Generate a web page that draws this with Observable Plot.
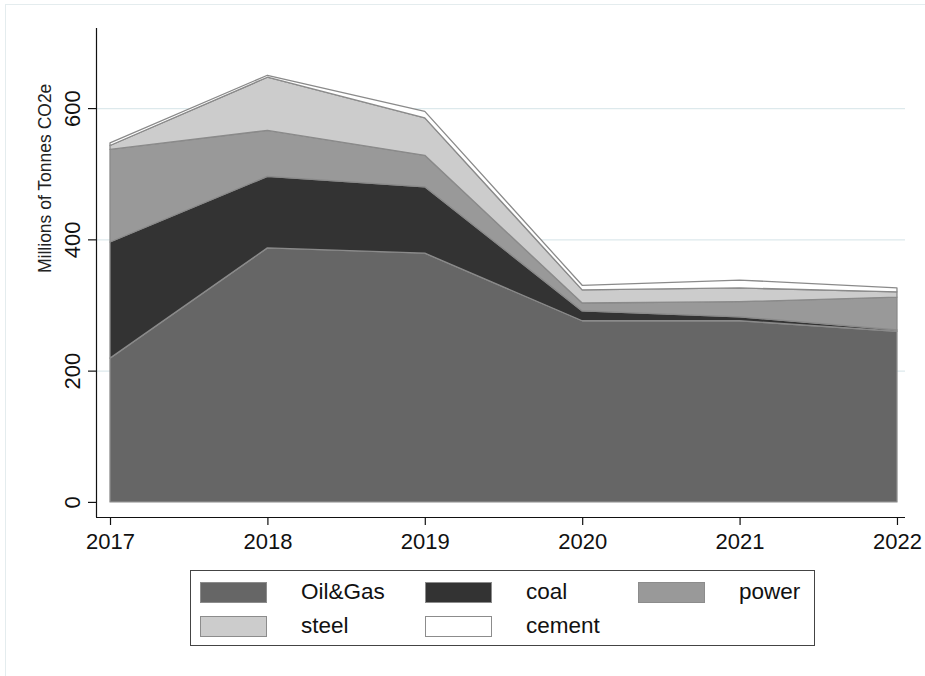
<!DOCTYPE html>
<html>
<head>
<meta charset="utf-8">
<script src="https://cdn.jsdelivr.net/npm/d3@7"></script>
<script src="https://cdn.jsdelivr.net/npm/@observablehq/plot@0.6"></script>
<style>
  body { margin: 0; background: #fff; font-family: "Liberation Sans", Arial, sans-serif; }
  #wrap { position: relative; width: 925px; height: 676px; overflow: hidden; }
  #border { position: absolute; left: 5px; top: 4px; width: 930px; height: 700px; border: 1px solid #e4ecee; box-sizing: border-box; }
  #chart { position: absolute; left: 0; top: 0; }
  #legend { position: absolute; left: 190px; top: 570px; width: 625px; height: 76px; border: 1.5px solid #444; box-sizing: border-box; font-size: 22.5px; color: #111; }
  .item { position: absolute; display: flex; align-items: center; height: 30px; }
  .sw { width: 67px; height: 21px; border: 1.5px solid #8c8c8c; box-sizing: border-box; margin-right: 34px; }
</style>
</head>
<body>
<div id="wrap">
  <div id="border"></div>
  <div id="chart"></div>
  <div id="legend"></div>
</div>
<script>
const years = [2017, 2018, 2019, 2020, 2021, 2022];
const sectors = ["Oil&Gas", "coal", "power", "steel", "cement"];
const oilGas = [219, 387, 379, 276, 276, 260];
const coal   = [177, 109, 101, 15, 6, 2];
const power  = [141, 70, 48, 12, 23, 50];
const steel  = [6, 81, 57, 20, 21, 8];
const cement = [4, 3, 10, 7, 12, 6];
const yTicks = [0, 200, 400, 600];
const colors = ["#666666", "#333333", "#999999", "#cccccc", "#ffffff"];
const yLabel = "Millions of Tonnes CO2e";

const seriesValues = [oilGas, coal, power, steel, cement];
const data = years.flatMap((yr, i) =>
  sectors.map((s, j) => ({year: yr, sector: s, value: seriesValues[j][i]}))
);

const xDomain = [2016.911, 2022.051];
const yDomain = [-23, 722];

const chart = Plot.plot({
  width: 925,
  height: 565,
  marginTop: 28,
  marginBottom: 48,
  marginLeft: 96,
  marginRight: 20,
  style: {fontFamily: "'Liberation Sans', Arial, sans-serif", color: "#111", background: "transparent"},
  x: {domain: xDomain},
  y: {domain: yDomain},
  color: {domain: sectors, range: colors},
  marks: [
    Plot.gridY(yTicks.filter(d => d > 0), {stroke: "#dde9ec", strokeOpacity: 1, strokeWidth: 1.2}),
    Plot.areaY(data, {x: "year", y: "value", fill: "sector", z: "sector", stroke: "#8a8a8a", strokeWidth: 1.3, order: sectors}),
    Plot.ruleX([xDomain[0]], {stroke: "#111", strokeWidth: 1.2}),
    Plot.ruleY([yDomain[0]], {stroke: "#111", strokeWidth: 1.2}),
    Plot.axisY(yTicks, {tickSize: 8, tickPadding: 9, fontSize: 22, tickRotate: -90, label: null, stroke: "#111", strokeWidth: 1.2}),
    Plot.axisX(years, {tickSize: 8, tickPadding: 8, fontSize: 22, tickFormat: d => String(d), label: null, stroke: "#111", strokeWidth: 1.2}),
    Plot.text([yLabel], {frameAnchor: "left", rotate: -90, dx: -51, fontSize: 17.5, fill: "#222"})
  ]
});
document.getElementById("chart").appendChild(chart);

// Legend
const legend = document.getElementById("legend");
const pos = [[9, 6], [234, 6], [447, 6], [9, 40], [234, 40]];
sectors.forEach((s, i) => {
  const it = document.createElement("div");
  it.className = "item";
  it.style.left = pos[i][0] + "px";
  it.style.top = pos[i][1] + "px";
  const sw = document.createElement("div");
  sw.className = "sw";
  sw.style.background = colors[i];
  const tx = document.createElement("span");
  tx.textContent = s;
  it.appendChild(sw);
  it.appendChild(tx);
  legend.appendChild(it);
});
</script>
</body>
</html>
